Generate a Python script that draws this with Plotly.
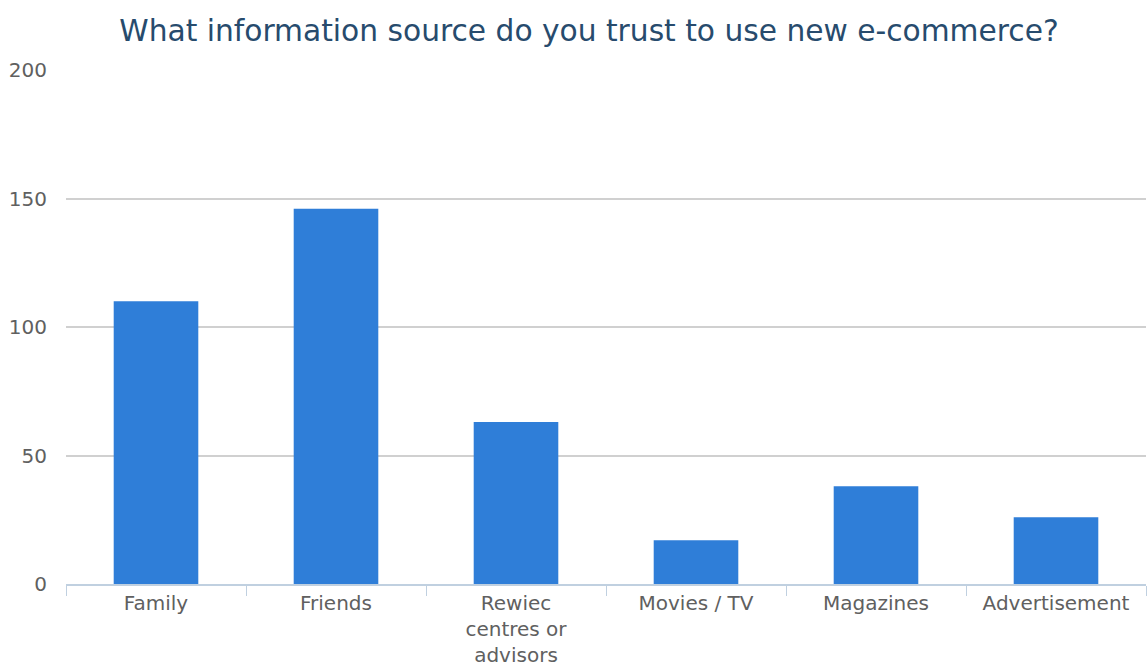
import plotly.graph_objects as go

categories = ["Family", "Friends", "Rewiec<br>centres or<br>advisors", "Movies / TV", "Magazines", "Advertisement"]
values = [110, 146, 63, 17, 38, 26]
y_ticks = [0, 50, 100, 150, 200]

fig = go.Figure(go.Bar(x=categories, y=values, marker=dict(color="#2f7ed8", line=dict(width=0)), width=0.47))

fig.update_layout(
    width=1147, height=669,
    margin=dict(l=66, r=1, t=70, b=85),
    paper_bgcolor="white", plot_bgcolor="white",
    font=dict(family="DejaVu Sans", color="#606060", size=20),
    title=dict(text="What information source do you trust to use new e-commerce?",
               font=dict(family="DejaVu Sans", size=29.7, color="#274b6d"),
               x=0.5135, xanchor="center", y=0.955, yanchor="middle"),
    showlegend=False,
    bargap=0.53,
)
fig.update_xaxes(showline=True, linecolor="#c0d0e0", linewidth=2, ticks="outside", ticklen=10,
                 tickcolor="#c0d0e0", tickson="boundaries", showgrid=False,
                 tickfont=dict(size=20, color="#606060"))
fig.update_yaxes(range=[0, 200], tickvals=y_ticks, showgrid=True, gridcolor="#d0d0d0", gridwidth=2,
                 zeroline=False, showline=False, ticklabelstandoff=18,
                 tickfont=dict(size=20, color="#606060"))

fig.write_html("out.html")
